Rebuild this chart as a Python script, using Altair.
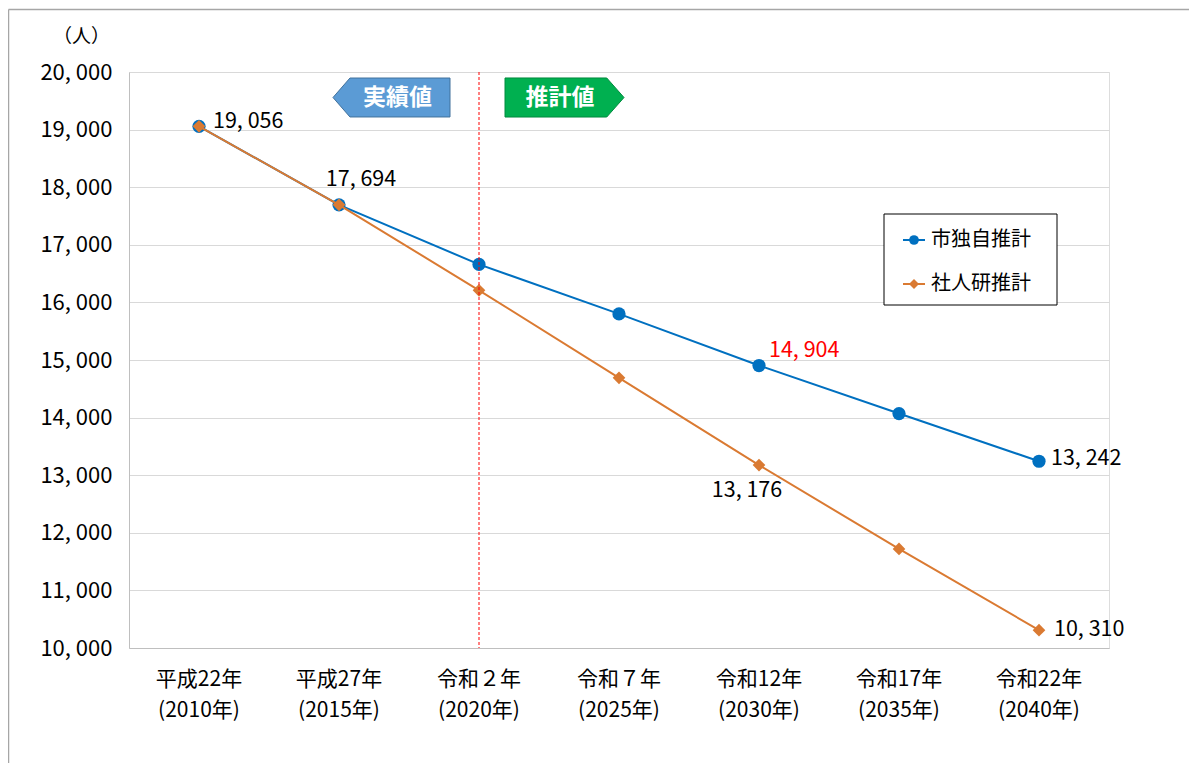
import altair as alt
import pandas as pd

categories = ["平成22年|(2010年)", "平成27年|(2015年)", "令和２年|(2020年)", "令和７年|(2025年)",
              "令和12年|(2030年)", "令和17年|(2035年)", "令和22年|(2040年)"]
series_names = ["市独自推計", "社人研推計"]
city_values = [19056, 17694, 16660, 15800, 14904, 14070, 13242]
ipss_values = [19056, 17694, 16210, 14690, 13176, 11720, 10310]
divider_category = "令和２年|(2020年)"
arrow_texts = ["実績値", "推計値"]
y_ticks = list(range(10000, 20001, 1000))

rows = []
for c, v in zip(categories, city_values):
    rows.append({"cat": c, "series": series_names[0], "value": v, "text": f"{v:,}".replace(",", ", ")})
for c, v in zip(categories, ipss_values):
    rows.append({"cat": c, "series": series_names[1], "value": v, "text": f"{v:,}".replace(",", ", ")})
df = pd.DataFrame(rows)

FONT = "Noto Sans CJK JP"
BLUE = "#0070C0"
ORANGE = "#DA7A32"
W, H = 980, 576

base = alt.Chart(df)
x = alt.X("cat:N", sort=categories, title=None,
          axis=alt.Axis(labelExpr="split(datum.label, '|')", labelAngle=0, labelFont=FONT,
                        labelFontSize=21, labelColor="#000", labelPadding=20, labelLineHeight=31,
                        ticks=False, domainColor="#BFBFBF", grid=False))
y = alt.Y("value:Q", scale=alt.Scale(domain=[10000, 20000], nice=False), title="（人）",
          axis=alt.Axis(values=y_ticks, labelExpr="replace(format(datum.value, ','), ',', ', ')",
                        labelFont=FONT, labelFontSize=22, labelColor="#000", labelPadding=17,
                        ticks=False, domainColor="#BFBFBF", gridColor="#D9D9D9",
                        titleAngle=0, titleX=-48, titleY=-36, titleAlign="center",
                        titleBaseline="middle", titleFont=FONT, titleFontSize=19,
                        titleFontWeight="normal", titleColor="#000"))

city = base.transform_filter(alt.datum.series == series_names[0])
ipss = base.transform_filter(alt.datum.series == series_names[1])

city_line = city.mark_line(color=BLUE, strokeWidth=2).encode(x=x, y=y)
city_pts = city.mark_point(filled=True, shape="circle", size=175, color=BLUE, opacity=1).encode(x=x, y=y)
ipss_line = ipss.mark_line(color=ORANGE, strokeWidth=2).encode(x=x, y=y)
ipss_pts = ipss.mark_point(filled=True, shape="diamond", size=160, color=ORANGE, opacity=1).encode(x=x, y=y)

rule = alt.Chart(alt.Data(values=[{}])).mark_rule(color="#FF0000", strokeWidth=1, strokeDash=[3, 2]).encode(
    x=alt.X(datum=divider_category, type="nominal"), y=alt.value(0), y2=alt.value(H))


def label(filter_expr, color="#000", align="left", dx=0, dy=0):
    return base.transform_filter(filter_expr).mark_text(
        font=FONT, fontSize=21.5, color=color, align=align, baseline="middle", dx=dx, dy=dy
    ).encode(x=x, y=y, text="text:N")


labels = [
    label((alt.datum.series == series_names[0]) & (alt.datum.cat == categories[0]), dx=14, dy=-4),
    label((alt.datum.series == series_names[0]) & (alt.datum.cat == categories[1]), align="center", dx=22, dy=-25),
    label((alt.datum.series == series_names[0]) & (alt.datum.cat == categories[4]), color="#FF0000", dx=10, dy=-15),
    label((alt.datum.series == series_names[1]) & (alt.datum.cat == categories[4]), align="center", dx=-12, dy=26),
    label((alt.datum.series == series_names[0]) & (alt.datum.cat == categories[6]), dx=12, dy=-2),
    label((alt.datum.series == series_names[1]) & (alt.datum.cat == categories[6]), dx=15, dy=0),
]

one = alt.Data(values=[{}])
# arrows
left_arrow_path = "M -1 0 L -0.71 -0.333 L 1 -0.333 L 1 0.333 L -0.71 0.333 Z"
right_arrow_path = "M -1 -0.328 L 0.71 -0.328 L 1 0 L 0.71 0.328 L -1 0.328 Z"
arrow1 = alt.Chart(one).mark_point(shape=left_arrow_path, size=117 * 117, filled=True, fill="#5B9BD5",
                                   stroke="#41719C", strokeWidth=1, opacity=1).encode(
    x=alt.value(391.5 - 129), y=alt.value(97.5 - 72))
arrow2 = alt.Chart(one).mark_point(shape=right_arrow_path, size=119 * 119, filled=True, fill="#00B050",
                                   stroke="#008A3E", strokeWidth=1, opacity=1).encode(
    x=alt.value(564.5 - 129), y=alt.value(97.5 - 72))
arrow1_t = alt.Chart(one).mark_text(text=arrow_texts[0], font=FONT, fontSize=23, fontWeight="bold",
                                    color="white", align="center", baseline="middle").encode(
    x=alt.value(397.5 - 129), y=alt.value(97.5 - 72))
arrow2_t = alt.Chart(one).mark_text(text=arrow_texts[1], font=FONT, fontSize=23, fontWeight="bold",
                                    color="white", align="center", baseline="middle").encode(
    x=alt.value(560 - 129), y=alt.value(97.5 - 72))

# legend
leg_box = alt.Chart(one).mark_rect(fill="white", stroke="#000", strokeWidth=1).encode(
    x=alt.value(884 - 129), x2=alt.value(1057 - 129), y=alt.value(214 - 72), y2=alt.value(305 - 72))
leg = [leg_box]
for name, col, shape, size, yy in [(series_names[0], BLUE, "circle", 95, 240), (series_names[1], ORANGE, "diamond", 100, 284)]:
    leg.append(alt.Chart(one).mark_rule(color=col, strokeWidth=2).encode(
        x=alt.value(903 - 129), x2=alt.value(925 - 129), y=alt.value(yy - 72)))
    leg.append(alt.Chart(one).mark_point(shape=shape, size=size, filled=True, color=col, opacity=1).encode(
        x=alt.value(914 - 129), y=alt.value(yy - 72)))
    leg.append(alt.Chart(one).mark_text(text=name, font=FONT, fontSize=20, color="#000", align="left",
                                        baseline="middle").encode(x=alt.value(931 - 129), y=alt.value(yy - 72)))

# outer frame (top and left)
frame_top = alt.Chart(one).mark_rule(color="#A6A6A6", strokeWidth=1.5).encode(
    x=alt.value(-120.5), x2=alt.value(1060), y=alt.value(-62.5))
frame_left = alt.Chart(one).mark_rule(color="#A6A6A6", strokeWidth=1.5).encode(
    x=alt.value(-120.5), y=alt.value(-62.5), y2=alt.value(H + 115))

chart = alt.layer(
    city_line, city_pts, ipss_line, ipss_pts, rule, *labels,
    arrow1, arrow2, arrow1_t, arrow2_t, *leg, frame_top, frame_left
).properties(
    width=W, height=H,
    autosize=alt.AutoSizeParams(type="none"),
    padding={"left": 121, "top": 64, "right": 80, "bottom": 115},
).configure_view(stroke=None).configure(background="white")

chart.save("out.html", embed_options={"renderer": "svg", "actions": False})
